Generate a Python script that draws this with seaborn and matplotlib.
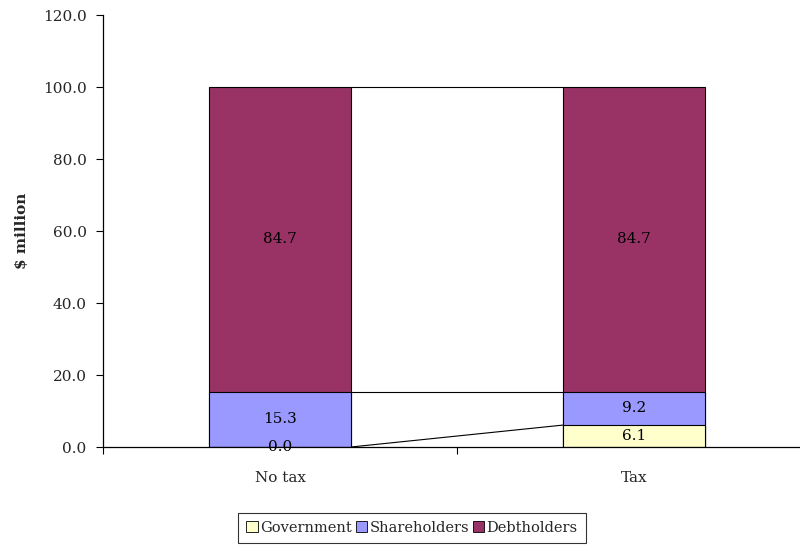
"""Stacked bar chart: claims on firm value with and without tax."""
import matplotlib
matplotlib.use("Agg")
import matplotlib.pyplot as plt
import numpy as np
import pandas as pd
import seaborn as sns
from matplotlib.patches import Patch

scenarios = ["No tax", "Tax"]
government = [0.0, 6.1]
shareholders = [15.3, 9.2]
debtholders = [84.7, 84.7]

series_names = ["Government", "Shareholders", "Debtholders"]
series_values = [government, shareholders, debtholders]
series_colors = ["#FFFFCC", "#9999FF", "#993366"]

sns.set_theme(style="white")
plt.rcParams["font.family"] = ["DejaVu Serif"]
plt.rcParams["font.size"] = 11

fig = plt.figure(figsize=(8, 5.46), dpi=100)
ax = fig.add_axes([0.129, 0.1813, 0.871, 0.7912])

# cumulative tops of each segment
vals = np.array(series_values)
tops = np.cumsum(vals, axis=0)
bottoms = tops - vals

# draw the tallest stack first, then overlay the lower ones
for i in reversed(range(len(series_names))):
    df = pd.DataFrame({"scenario": scenarios, "value": tops[i]})
    sns.barplot(data=df, x="scenario", y="value", color=series_colors[i],
                width=0.4, edgecolor="black", linewidth=0.8,
                saturation=1, ax=ax, zorder=2)

# segment labels
for i in range(len(series_names)):
    for j in range(len(scenarios)):
        mid = bottoms[i][j] + vals[i][j] / 2
        ax.text(j, mid, f"{vals[i][j]:.1f}", ha="center", va="center",
                fontsize=11, color="black", zorder=5)

# series lines between the bars
for i in range(len(series_names)):
    ax.plot([0.2, 0.8], [tops[i][0], tops[i][1]], color="black",
            lw=0.8, zorder=1)

ax.set_yticks(np.arange(0, 121, 20))
ax.set_yticklabels([f"{v:.1f}" for v in np.arange(0, 121, 20)])
ax.set_xticks([-0.5, 0.5, 1.5])
ax.set_xticklabels([])
ax.set_xticks([0, 1], minor=True)
ax.set_xticklabels(scenarios, minor=True)
ax.set_ylim(0, 120)
ax.set_xlim(-0.5, 1.469)
ax.tick_params(axis="x", which="minor", length=0, pad=17, labelsize=11)
ax.tick_params(axis="x", which="major", direction="out", length=5,
               width=0.8, color="black", bottom=True)
ax.tick_params(axis="y", direction="out", length=5, width=0.8,
               color="black", left=True, labelsize=11, pad=7)
ax.set_xlabel("")
ax.set_ylabel(r"\$ million", fontsize=11, fontweight="bold", labelpad=10)

for s in ["top", "right"]:
    ax.spines[s].set_visible(False)
for s in ["left", "bottom"]:
    ax.spines[s].set_color("black")
    ax.spines[s].set_linewidth(0.9)

handles = [Patch(facecolor=c, edgecolor="black", linewidth=0.6, label=n)
           for n, c in zip(series_names, series_colors)]
leg = fig.legend(handles=handles, loc="center", bbox_to_anchor=(0.515, 0.033),
                 ncol=3, frameon=True, fancybox=False, fontsize=10.5,
                 handlelength=0.8, handleheight=0.8, handletextpad=0.15,
                 columnspacing=0.25, borderpad=0.55, borderaxespad=0)
leg.get_frame().set_edgecolor("black")
leg.get_frame().set_linewidth(0.8)

fig.savefig("out.png", dpi=100)
